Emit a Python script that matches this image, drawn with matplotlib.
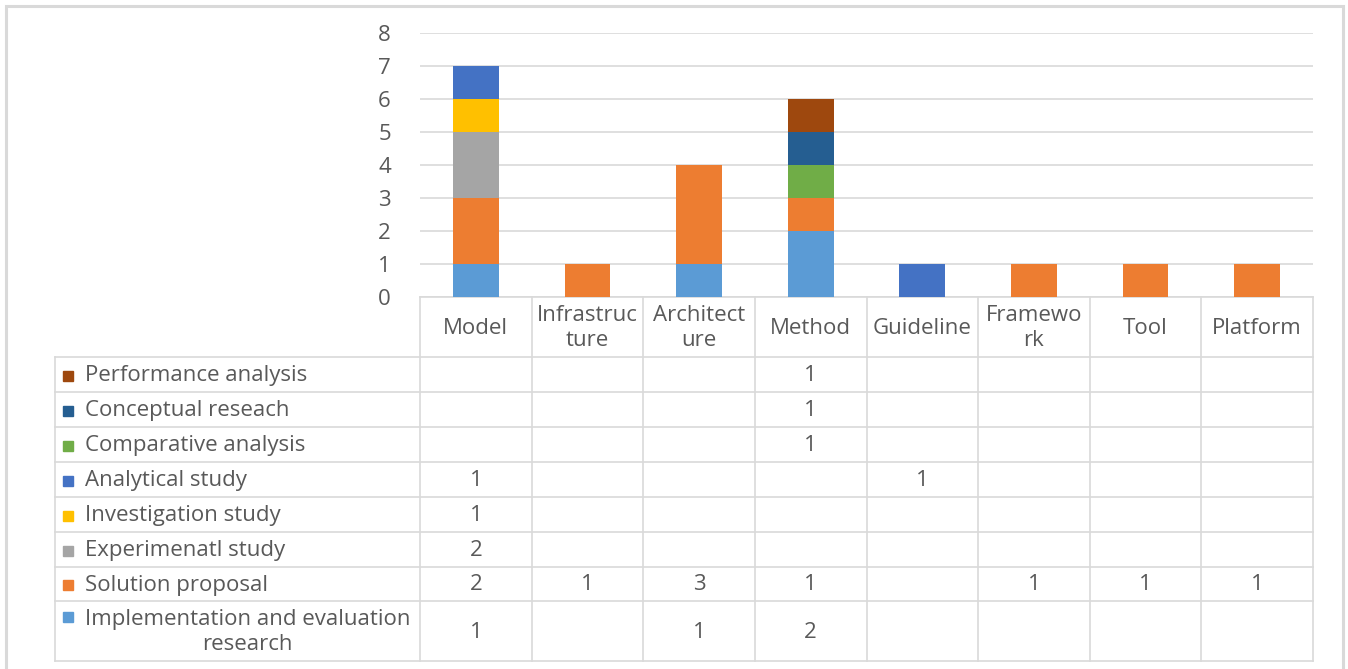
import matplotlib
matplotlib.use("Agg")
import matplotlib.pyplot as plt
import numpy as np

plt.rcParams["font.family"] = ["Open Sans", "DejaVu Sans"]

# Contribution types (columns) and research types (stacked series, bottom to top)
categories = ["Model", "Infrastructure", "Architecture", "Method",
              "Guideline", "Framework", "Tool", "Platform"]
header_labels = ["Model", "Infrastruc\nture", "Architect\nure", "Method",
                 "Guideline", "Framewo\nrk", "Tool", "Platform"]

series_names = ["Implementation and evaluation\nresearch", "Solution proposal",
                "Experimenatl study", "Investigation study", "Analytical study",
                "Comparative analysis", "Conceptual reseach", "Performance analysis"]
series_colors = ["#5B9BD5", "#ED7D31", "#A5A5A5", "#FFC000", "#4472C4",
                 "#70AD47", "#255E91", "#9E480E"]

impl_eval = [1, 0, 1, 2, 0, 0, 0, 0]
solution = [2, 1, 3, 1, 0, 1, 1, 1]
experimental = [2, 0, 0, 0, 0, 0, 0, 0]
investigation = [1, 0, 0, 0, 0, 0, 0, 0]
analytical = [1, 0, 0, 0, 1, 0, 0, 0]
comparative = [0, 0, 0, 1, 0, 0, 0, 0]
conceptual = [0, 0, 0, 1, 0, 0, 0, 0]
performance = [0, 0, 0, 1, 0, 0, 0, 0]

series_values = [impl_eval, solution, experimental, investigation,
                 analytical, comparative, conceptual, performance]

W, H = 1348, 669
fig = plt.figure(figsize=(W / 100, H / 100), dpi=100)

# page-pixel overlay for the frame and the data table
page = fig.add_axes([0, 0, 1, 1])
page.set_xlim(0, W)
page.set_ylim(H, 0)
page.axis("off")

grid_c = "#D9D9D9"
text_c = "#595959"
fs = 16

# outer chart frame
page.plot([6, 6, 1343, 1343], [H + 5, 6, 6, H + 5], color=grid_c, lw=2.2,
          solid_joinstyle="miter")

# plot area geometry
x0, x1 = 420, 1313
y_top, y_base = 33, 297
ax = fig.add_axes([x0 / W, (H - y_base) / H, (x1 - x0) / W, (y_base - y_top) / H])
n = len(categories)
x = np.arange(n)
bottom = np.zeros(n)
for vals, col in zip(series_values, series_colors):
    v = np.array(vals, dtype=float)
    ax.bar(x, v, 0.41, bottom=bottom, color=col, zorder=3)
    bottom += v
ax.set_xlim(-0.5, n - 0.5)
ax.set_ylim(0, 8)
ax.set_yticks(range(9))
ax.set_xticks([])
ax.grid(axis="y", color=grid_c, lw=1.2, zorder=0)
for s in ax.spines.values():
    s.set_visible(False)
ax.tick_params(axis="y", length=0, pad=21, labelsize=fs, labelcolor=text_c)
ax.patch.set_alpha(0)

# data table below the plot
col_w = (x1 - x0) / n
col_edges = [x0 + i * col_w for i in range(n + 1)]
tab_left = 55
row_edges = [357, 392, 427, 462, 497, 532, 567, 601, 661]
line_kw = dict(color=grid_c, lw=1.2)

for xe in col_edges:
    page.plot([xe, xe], [y_base, row_edges[-1]], **line_kw)
page.plot([tab_left, tab_left], [row_edges[0], row_edges[-1]], **line_kw)
page.plot([x0, x1], [y_base, y_base], **line_kw)
for ye in row_edges:
    page.plot([tab_left, x1], [ye, ye], **line_kw)

for i, lab in enumerate(header_labels):
    page.text(x0 + (i + 0.5) * col_w, (y_base + row_edges[0]) / 2 + 1, lab,
              ha="center", va="center", fontsize=fs, color=text_c,
              linespacing=1.25)

# rows are listed top-down, i.e. the stack order reversed
for r, k in enumerate(range(len(series_names) - 1, -1, -1)):
    top, bot = row_edges[r], row_edges[r + 1]
    yc = (top + bot) / 2 + 1
    multi = "\n" in series_names[k]
    ty = top + 16 if multi else yc
    page.add_patch(plt.Rectangle((63, ty - 5), 10, 10, color=series_colors[k]))
    page.text(85, yc, series_names[k], ha="left", va="center",
              multialignment="center", fontsize=fs, color=text_c,
              linespacing=1.25)
    for i, v in enumerate(series_values[k]):
        if v:
            page.text(x0 + (i + 0.5) * col_w, yc, str(v), ha="center",
                      va="center", fontsize=fs, color=text_c)

fig.savefig("out.png", dpi=100)
